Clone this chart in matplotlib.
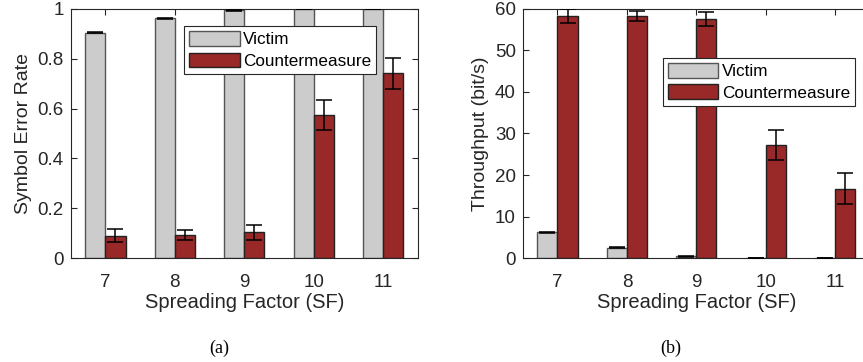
import numpy as np
import matplotlib.pyplot as plt

# Spreading factors on the x axis
sf = [7, 8, 9, 10, 11]
sf_labels = ["7", "8", "9", "10", "11"]

# (a) symbol error rate
ser_victim = [0.904, 0.961, 0.993, 0.999, 0.999]
ser_victim_err = [0.002, 0.002, 0.002, 0.001, 0.001]
ser_counter = [0.091, 0.093, 0.104, 0.575, 0.741]
ser_counter_err = [0.027, 0.020, 0.029, 0.060, 0.062]

# (b) throughput in bit/s
tp_victim = [6.2, 2.5, 0.5, 0.08, 0.05]
tp_victim_err = [0.15, 0.1, 0.1, 0.03, 0.02]
tp_counter = [58.3, 58.2, 57.5, 27.3, 16.7]
tp_counter_err = [1.7, 1.2, 1.7, 3.6, 3.7]

VICTIM = "#cccccc"
COUNTER = "#992828"
AXCOL = "#262626"

plt.rcParams["font.family"] = ["Liberation Sans", "DejaVu Sans"]
plt.rcParams["font.size"] = 12

fig = plt.figure(figsize=(8.63, 3.62), dpi=100)

W = 0.2896  # bar width in data units


def bar_panel(ax, v, v_err, c, c_err, ylim, yticks, ylabel):
    x = np.array(sf, dtype=float)
    ax.bar(x - W / 2, v, W, color=VICTIM, edgecolor="#555555",
           linewidth=1.0, label="Victim", zorder=2)
    ax.bar(x + W / 2, c, W, color=COUNTER, edgecolor="#222222",
           linewidth=1.0, label="Countermeasure", zorder=2)
    ax.errorbar(x - W / 2, v, yerr=v_err, fmt="none", ecolor="black",
                elinewidth=1.1, capsize=5.8, capthick=1.1, zorder=3)
    ax.errorbar(x + W / 2, c, yerr=c_err, fmt="none", ecolor="black",
                elinewidth=1.1, capsize=5.8, capthick=1.1, zorder=3)

    ax.set_xlim(6.5, 11.5)
    ax.set_ylim(*ylim)
    ax.set_xticks(sf)
    ax.set_xticklabels(sf_labels)
    ax.set_yticks(yticks)
    ax.set_ylabel(ylabel, color=AXCOL, fontsize=14, labelpad=4)
    ax.set_xlabel("Spreading Factor (SF)", color=AXCOL, fontsize=14.5,
                  labelpad=1)

    ax.tick_params(direction="in", top=True, right=True, length=4,
                   width=0.8, colors=AXCOL, labelsize=13.5)
    ax.tick_params(axis="x", pad=11.5)
    ax.tick_params(axis="y", pad=5)
    for s in ax.spines.values():
        s.set_color(AXCOL)
        s.set_linewidth(0.8)


ax1 = fig.add_axes([0.0819, 0.2865, 0.4024, 0.6895])
bar_panel(ax1, ser_victim, ser_victim_err, ser_counter, ser_counter_err,
          (0, 1), [0, 0.2, 0.4, 0.6, 0.8, 1], "Symbol Error Rate")
ax1.set_yticklabels(["0", "0.2", "0.4", "0.6", "0.8", "1"])

ax2 = fig.add_axes([0.6057, 0.2865, 0.4024, 0.6895])
bar_panel(ax2, tp_victim, tp_victim_err, tp_counter, tp_counter_err,
          (0, 60), [0, 10, 20, 30, 40, 50, 60], "Throughput (bit/s)")

legend_kw = dict(loc="upper left", fontsize=12.3, frameon=True,
                 fancybox=False, edgecolor=AXCOL, framealpha=1,
                 handlelength=2.95, handleheight=0.95, handletextpad=0.2,
                 labelspacing=0.3, borderpad=0.3, borderaxespad=0)
leg1 = ax1.legend(bbox_to_anchor=(0.2132, 0.928),
                  bbox_transform=fig.transFigure, **legend_kw)
leg2 = ax2.legend(bbox_to_anchor=(0.768, 0.840),
                  bbox_transform=fig.transFigure, **legend_kw)
for leg in (leg1, leg2):
    leg.get_frame().set_linewidth(0.8)

fig.text(0.254, 0.038, "(a)", family="Liberation Serif", fontsize=13,
         ha="center", va="center")
fig.text(0.777, 0.038, "(b)", family="Liberation Serif", fontsize=13,
         ha="center", va="center")

fig.savefig("out.png", dpi=100)
